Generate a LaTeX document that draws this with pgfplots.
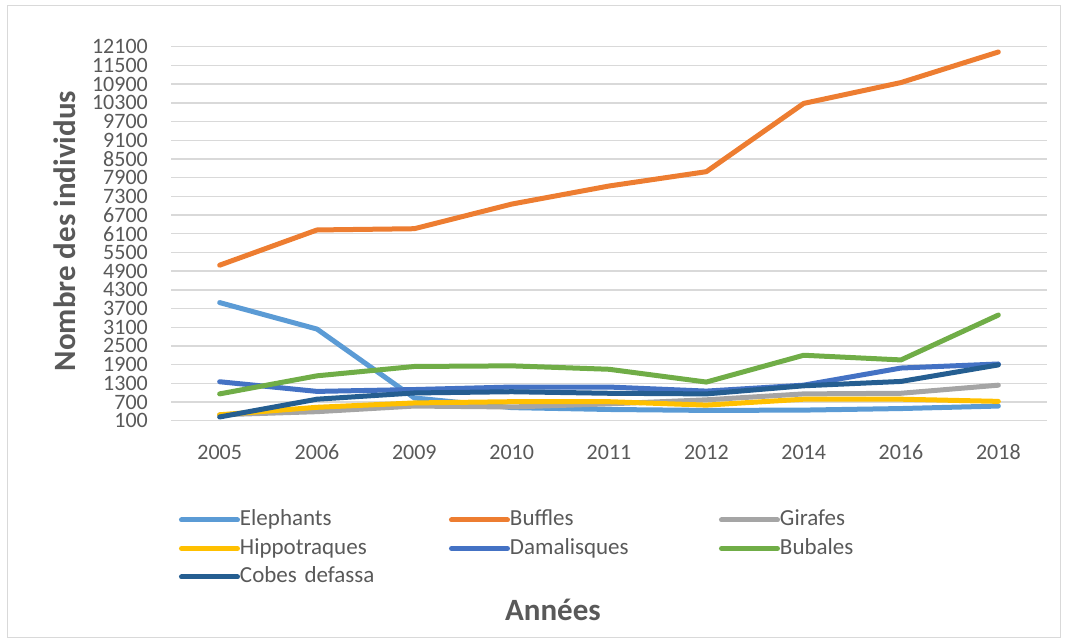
\documentclass[border=0pt]{standalone}
\usepackage{pgfplots}
\pgfplotsset{compat=1.18}
\usepackage{fontspec}
\setmainfont{Carlito}
\definecolor{cEle}{HTML}{5B9BD5}
\definecolor{cBuf}{HTML}{ED7D31}
\definecolor{cGir}{HTML}{A5A5A5}
\definecolor{cHip}{HTML}{FFC000}
\definecolor{cDam}{HTML}{4472C4}
\definecolor{cBub}{HTML}{70AD47}
\definecolor{cCob}{HTML}{255E91}
\definecolor{txt}{HTML}{595959}
\definecolor{grd}{HTML}{D9D9D9}
\begin{document}
\begin{tikzpicture}
\path[use as bounding box] (0,0) rectangle (1067pt,643pt);
\draw[grd, line width=1pt] (7pt,6pt) rectangle (1060pt,637pt);
\begin{axis}[
  at={(171pt,222.3pt)}, anchor=south west,
  width=876pt, height=374pt, scale only axis,
  xmin=-0.5, xmax=8.5, ymin=100, ymax=12100,
  xtick={0,...,8},
  xticklabels={2005,2006,2009,2010,2011,2012,2014,2016,2018},
  ytick={100,700,1300,1900,2500,3100,3700,4300,4900,5500,6100,6700,7300,7900,8500,9100,9700,10300,10900,11500,12100},
  yticklabels={100,700,1300,1900,2500,3100,3700,4300,4900,5500,6100,6700,7300,7900,8500,9100,9700,10300,10900,11500,12100},
  scaled y ticks=false,
  ymajorgrids, grid style={draw=grd, line width=1.4pt},
  axis line style={draw=none}, tick style={draw=none},
  yticklabel style={font=\fontsize{22}{22}\selectfont, text=txt, anchor=east, inner sep=0pt, xshift=-23pt},
  xticklabel style={font=\fontsize{22}{22}\selectfont, text=txt, anchor=north, inner sep=0pt, yshift=-24pt},
  xlabel={Années}, ylabel={Nombre des individus},
  xlabel style={font=\bfseries\fontsize{31}{31}\selectfont, text=txt, at={(axis description cs:0.436,-0.506)}, anchor=center},
  ylabel style={font=\bfseries\fontsize{31}{31}\selectfont, text=txt, at={(axis description cs:-0.121,0.507)}, anchor=center},
  clip=false,
  every axis plot/.append style={line width=5pt, line cap=round, line join=round},
  legend columns=3,
  legend image code/.code={\draw[#1, line width=5pt, line cap=round] (0pt,0pt) -- (56pt,0pt);},
  legend style={at={(axis description cs:0.00913,-0.236)}, anchor=north west, draw=none, fill=none, inner sep=0pt, outer sep=0pt,
    font=\fontsize{23}{23}\selectfont, text=txt,
    nodes={inner sep=0pt, text width=209pt, align=left, anchor=west, text height=17pt, text depth=5pt},
    row sep=6.5pt,
    /tikz/every odd column/.append style={column sep=0pt},
    /tikz/every even column/.append style={column sep=0pt}},
]
\addplot[cEle] coordinates {(0,3890) (1,3040) (2,830) (3,520) (4,460) (5,430) (6,440) (7,490) (8,570)};
\addlegendentry{Elephants}
\addplot[cBuf] coordinates {(0,5090) (1,6220) (2,6260) (3,7050) (4,7630) (5,8090) (6,10280) (7,10950) (8,11930)};
\addlegendentry{Buffles}
\addplot[cGir] coordinates {(0,290) (1,390) (2,570) (3,540) (4,640) (5,770) (6,960) (7,980) (8,1240)};
\addlegendentry{Girafes}
\addplot[cHip] coordinates {(0,290) (1,530) (2,670) (3,710) (4,710) (5,600) (6,790) (7,790) (8,720)};
\addlegendentry{Hippotraques}
\addplot[cDam] coordinates {(0,1350) (1,1040) (2,1100) (3,1180) (4,1180) (5,1050) (6,1240) (7,1790) (8,1920)};
\addlegendentry{Damalisques}
\addplot[cBub] coordinates {(0,960) (1,1540) (2,1840) (3,1860) (4,1750) (5,1340) (6,2200) (7,2050) (8,3490)};
\addlegendentry{Bubales}
\addplot[cCob] coordinates {(0,220) (1,790) (2,990) (3,1030) (4,980) (5,960) (6,1220) (7,1360) (8,1890)};
\addlegendentry{Cobes defassa}
\end{axis}
\end{tikzpicture}
\end{document}
